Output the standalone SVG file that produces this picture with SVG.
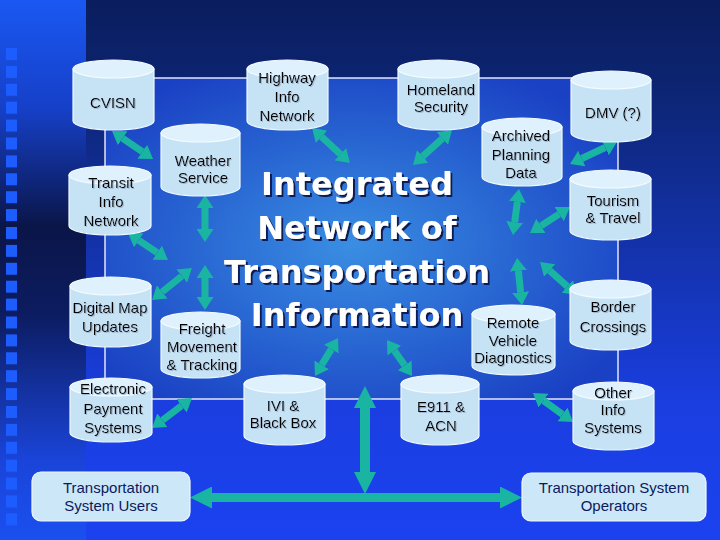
<svg xmlns="http://www.w3.org/2000/svg" width="720" height="540" viewBox="0 0 720 540">
<defs>
  <linearGradient id="bgMain" x1="0" y1="0" x2="0" y2="1">
    <stop offset="0" stop-color="#0a1d5e"/>
    <stop offset="0.15" stop-color="#0c2470"/>
    <stop offset="0.4" stop-color="#1230a0"/>
    <stop offset="0.75" stop-color="#1a3ee0"/>
    <stop offset="1" stop-color="#1b42f0"/>
  </linearGradient>
  <linearGradient id="bgStrip" x1="0" y1="0" x2="0" y2="1">
    <stop offset="0" stop-color="#1a58f2"/>
    <stop offset="0.2" stop-color="#1640c8"/>
    <stop offset="0.42" stop-color="#0a1548"/>
    <stop offset="0.58" stop-color="#0c1c60"/>
    <stop offset="0.85" stop-color="#1a44d8"/>
    <stop offset="1" stop-color="#1a50f0"/>
  </linearGradient>
  <radialGradient id="bgCenter" cx="0.48" cy="0.52" r="0.62">
    <stop offset="0" stop-color="#3a8ee2"/>
    <stop offset="0.45" stop-color="#2a6ad4"/>
    <stop offset="1" stop-color="#1a40c4"/>
  </radialGradient>
  <pattern id="squares" x="6" y="48" width="12" height="17.9" patternUnits="userSpaceOnUse">
    <rect x="0" y="0" width="11" height="12" fill="#1d5cff"/>
  </pattern>
  <marker id="head" viewBox="0 0 13 17" refX="0" refY="8.5" markerWidth="13" markerHeight="17" markerUnits="userSpaceOnUse" orient="auto-start-reverse">
    <path d="M0,0 L13,8.5 L0,17 Z" fill="#1ab4a2"/>
  </marker>
  <marker id="bighead" viewBox="0 0 22 22" refX="0" refY="11" markerWidth="22" markerHeight="22" markerUnits="userSpaceOnUse" orient="auto-start-reverse">
    <path d="M0,0 L22,11 L0,22 Z" fill="#1ab4a2"/>
  </marker>
  <filter id="txtShadow" x="-10%" y="-10%" width="130%" height="140%">
    <feDropShadow dx="1" dy="1" stdDeviation="0.3" flood-color="#9fb2c8" flood-opacity="0.9"/>
  </filter>
  <filter id="titleShadow" x="-5%" y="-5%" width="115%" height="120%">
    <feDropShadow dx="2" dy="2" stdDeviation="0.5" flood-color="#0a1a55" flood-opacity="1"/>
  </filter>
  <style>
    .body{fill:#c6e3f6;stroke:#eef8ff;stroke-width:1.2}
    .top{fill:#dff1fc;stroke:#f4fbff;stroke-width:1.2}
    .box{fill:#cbe7f8;stroke:#eef8ff;stroke-width:1.2}
    .lbl{font-family:"Liberation Sans",Arial,sans-serif;font-size:15px;fill:#000;text-anchor:middle}
    .blbl{font-family:"Liberation Sans",Arial,sans-serif;font-size:15px;fill:#0c1a5c;text-anchor:middle}
    .title{font-family:"DejaVu Sans",Verdana,sans-serif;font-weight:bold;font-size:32px;text-anchor:middle;fill:#ffffff}
    .conn{stroke:#1ab4a2;stroke-width:7;fill:none;marker-start:url(#head);marker-end:url(#head)}
    .bigconn{stroke:#1ab4a2;fill:none;marker-start:url(#bighead);marker-end:url(#bighead)}
  </style>
</defs>

<!-- background -->
<rect x="0" y="0" width="720" height="540" fill="url(#bgMain)"/>
<rect x="0" y="0" width="86" height="540" fill="url(#bgStrip)"/>
<rect x="6" y="48" width="12" height="480" fill="url(#squares)"/>
<rect x="105" y="78" width="513" height="321" fill="url(#bgCenter)" stroke="#ffffff" stroke-width="1.3"/>

<!-- title -->
<g id="title" filter="url(#titleShadow)">
  <text class="title" x="357" y="195">Integrated</text>
  <text class="title" x="357" y="239">Network of</text>
  <text class="title" x="357" y="283">Transportation</text>
  <text class="title" x="357" y="326">Information</text>
</g>

<!-- connectors -->
<g id="connectors">
  <line class="conn" x1="122.7" y1="138.3" x2="142.3" y2="151.7"/>
  <line class="conn" x1="321.6" y1="136.8" x2="340.4" y2="154.2"/>
  <line class="conn" x1="442.3" y1="138.7" x2="422.7" y2="156.3"/>
  <line class="conn" x1="605.2" y1="147.5" x2="581.8" y2="158.5"/>
  <line class="conn" x1="205" y1="208" x2="205" y2="229"/>
  <line class="conn" x1="138.8" y1="240.3" x2="157.2" y2="252.7"/>
  <line class="conn" x1="162.2" y1="291.9" x2="181.8" y2="276.1"/>
  <line class="conn" x1="205" y1="278" x2="205" y2="297"/>
  <line class="conn" x1="162.4" y1="420.2" x2="181.6" y2="405.8"/>
  <line class="conn" x1="321.7" y1="364.9" x2="331.3" y2="349.1"/>
  <line class="conn" x1="404.6" y1="365.3" x2="394.4" y2="350.7"/>
  <line class="conn" x1="517.3" y1="201.9" x2="514.7" y2="222.1"/>
  <line class="conn" x1="559.1" y1="214.1" x2="540.9" y2="225.9"/>
  <line class="conn" x1="518.4" y1="270.9" x2="520.6" y2="292.1"/>
  <line class="conn" x1="549.7" y1="270.6" x2="567.3" y2="286.4"/>
  <line class="conn" x1="543.5" y1="400.6" x2="562.5" y2="414.4"/>
  <line class="bigconn" stroke-width="10" x1="365" y1="408" x2="365" y2="472"/>
  <line class="bigconn" stroke-width="9" x1="212" y1="497.5" x2="500" y2="497.5"/>
</g>

<!-- nodes -->
<g id="cvisn">
  <path class="body" d="M73,69 V121 A40.5,9 0 0 0 154,121 V69 Z"/>
  <ellipse class="top" cx="113.5" cy="69" rx="40.5" ry="9"/>
  <g filter="url(#txtShadow)"><text class="lbl" x="113" y="108">CVISN</text></g>
</g>
<g id="highway">
  <path class="body" d="M247,69 V121 A40.5,9 0 0 0 328,121 V69 Z"/>
  <ellipse class="top" cx="287.5" cy="69" rx="40.5" ry="9"/>
  <g filter="url(#txtShadow)">
    <text class="lbl" x="287" y="83">Highway</text>
    <text class="lbl" x="287" y="102">Info</text>
    <text class="lbl" x="287" y="121">Network</text>
  </g>
</g>
<g id="homeland">
  <path class="body" d="M398,69 V121 A40.5,9 0 0 0 479,121 V69 Z"/>
  <ellipse class="top" cx="438.5" cy="69" rx="40.5" ry="9"/>
  <g filter="url(#txtShadow)">
    <text class="lbl" x="441" y="95">Homeland</text>
    <text class="lbl" x="441" y="112">Security</text>
  </g>
</g>
<g id="dmv">
  <path class="body" d="M571,80 V133 A40,9 0 0 0 651,133 V80 Z"/>
  <ellipse class="top" cx="611" cy="80" rx="40" ry="9"/>
  <g filter="url(#txtShadow)"><text class="lbl" x="613" y="118">DMV (?)</text></g>
</g>
<g id="weather">
  <path class="body" d="M161,133 V187 A39.5,9 0 0 0 240,187 V133 Z"/>
  <ellipse class="top" cx="200.5" cy="133" rx="39.5" ry="9"/>
  <g filter="url(#txtShadow)">
    <text class="lbl" x="203" y="166">Weather</text>
    <text class="lbl" x="203" y="183">Service</text>
  </g>
</g>
<g id="archived">
  <path class="body" d="M482,127 V177 A40,9 0 0 0 562,177 V127 Z"/>
  <ellipse class="top" cx="522" cy="127" rx="40" ry="9"/>
  <g filter="url(#txtShadow)">
    <text class="lbl" x="521" y="141">Archived</text>
    <text class="lbl" x="521" y="160">Planning</text>
    <text class="lbl" x="521" y="178">Data</text>
  </g>
</g>
<g id="transit">
  <path class="body" d="M69,175 V226 A41,9 0 0 0 151,226 V175 Z"/>
  <ellipse class="top" cx="110" cy="175" rx="41" ry="9"/>
  <g filter="url(#txtShadow)">
    <text class="lbl" x="111" y="188">Transit</text>
    <text class="lbl" x="111" y="207">Info</text>
    <text class="lbl" x="111" y="226">Network</text>
  </g>
</g>
<g id="tourism">
  <path class="body" d="M570,179 V231 A40.5,9 0 0 0 651,231 V179 Z"/>
  <ellipse class="top" cx="610.5" cy="179" rx="40.5" ry="9"/>
  <g filter="url(#txtShadow)">
    <text class="lbl" x="613" y="206">Tourism</text>
    <text class="lbl" x="613" y="223">&amp; Travel</text>
  </g>
</g>
<g id="digitalmap">
  <path class="body" d="M70,286 V338 A40.5,9 0 0 0 151,338 V286 Z"/>
  <ellipse class="top" cx="110.5" cy="286" rx="40.5" ry="9"/>
  <g filter="url(#txtShadow)">
    <text class="lbl" x="110" y="313">Digital Map</text>
    <text class="lbl" x="110" y="332">Updates</text>
  </g>
</g>
<g id="border">
  <path class="body" d="M570,289 V341 A40.5,9 0 0 0 651,341 V289 Z"/>
  <ellipse class="top" cx="610.5" cy="289" rx="40.5" ry="9"/>
  <g filter="url(#txtShadow)">
    <text class="lbl" x="613" y="312">Border</text>
    <text class="lbl" x="613" y="332">Crossings</text>
  </g>
</g>
<g id="freight">
  <path class="body" d="M161,321 V369 A39.5,9 0 0 0 240,369 V321 Z"/>
  <ellipse class="top" cx="200.5" cy="321" rx="39.5" ry="9"/>
  <g filter="url(#txtShadow)">
    <text class="lbl" x="202" y="334">Freight</text>
    <text class="lbl" x="202" y="352">Movement</text>
    <text class="lbl" x="202" y="370">&amp; Tracking</text>
  </g>
</g>
<g id="remote">
  <path class="body" d="M472,314 V366 A41.5,9 0 0 0 555,366 V314 Z"/>
  <ellipse class="top" cx="513.5" cy="314" rx="41.5" ry="9"/>
  <g filter="url(#txtShadow)">
    <text class="lbl" x="513" y="328">Remote</text>
    <text class="lbl" x="513" y="346">Vehicle</text>
    <text class="lbl" x="513" y="363">Diagnostics</text>
  </g>
</g>
<g id="electronic">
  <path class="body" d="M70,387 V433 A41,9 0 0 0 152,433 V387 Z"/>
  <ellipse class="top" cx="111" cy="387" rx="41" ry="9"/>
  <g filter="url(#txtShadow)">
    <text class="lbl" x="113" y="394">Electronic</text>
    <text class="lbl" x="113" y="413.5">Payment</text>
    <text class="lbl" x="113" y="433">Systems</text>
  </g>
</g>
<g id="ivi">
  <path class="body" d="M244,384 V436 A40.5,9 0 0 0 325,436 V384 Z"/>
  <ellipse class="top" cx="284.5" cy="384" rx="40.5" ry="9"/>
  <g filter="url(#txtShadow)">
    <text class="lbl" x="283" y="411">IVI &amp;</text>
    <text class="lbl" x="283" y="428">Black Box</text>
  </g>
</g>
<g id="e911">
  <path class="body" d="M401,384 V436 A39,9 0 0 0 479,436 V384 Z"/>
  <ellipse class="top" cx="440" cy="384" rx="39" ry="9"/>
  <g filter="url(#txtShadow)">
    <text class="lbl" x="441" y="412">E911 &amp;</text>
    <text class="lbl" x="441" y="431">ACN</text>
  </g>
</g>
<g id="other">
  <path class="body" d="M573,391 V441 A40.5,9 0 0 0 654,441 V391 Z"/>
  <ellipse class="top" cx="613.5" cy="391" rx="40.5" ry="9"/>
  <g filter="url(#txtShadow)">
    <text class="lbl" x="613" y="398">Other</text>
    <text class="lbl" x="613" y="415">Info</text>
    <text class="lbl" x="613" y="433">Systems</text>
  </g>
</g>
<g id="users">
  <rect class="box" x="32" y="472" width="158" height="49" rx="9"/>
  <text class="blbl" x="111" y="493">Transportation</text>
  <text class="blbl" x="111" y="511">System Users</text>
</g>
<g id="operators">
  <rect class="box" x="522" y="473" width="184" height="48" rx="9"/>
  <text class="blbl" x="614" y="493">Transportation System</text>
  <text class="blbl" x="614" y="511">Operators</text>
</g>
</svg>
